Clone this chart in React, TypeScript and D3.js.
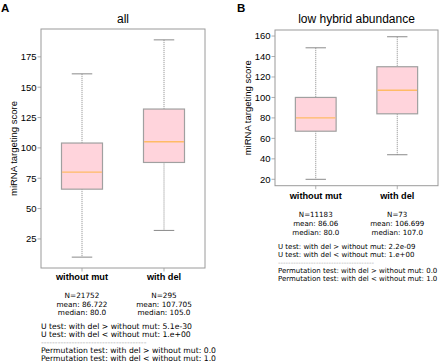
import React from "react";
import * as d3 from "d3";

const categories = ["without mut", "with del"];

// Panel A: all
const aWhiskerLow = [10, 32];
const aQ1 = [66, 88];
const aMedian = [80, 105];
const aQ3 = [104, 132];
const aWhiskerHigh = [161, 189];
const aYDomain = [1.05, 197.95];
const aTicks = [25, 50, 75, 100, 125, 150, 175];
const aStats = [
  ["N=21752", "mean: 86.722", "median: 80.0"],
  ["N=295", "mean: 107.705", "median: 105.0"],
];
const aTests = [
  "U test: with del > without mut: 5.1e-30",
  "U test: with del < without mut: 1.e+00",
  "--------------------------------------",
  "Permutation test: with del > without mut: 0.0",
  "Permutation test: with del < without mut: 1.0",
];

// Panel B: low hybrid abundance
const bWhiskerLow = [20, 44];
const bQ1 = [67, 84];
const bMedian = [80, 107];
const bQ3 = [100, 130];
const bWhiskerHigh = [148.5, 159.3];
const bYDomain = [13.75, 165.9];
const bTicks = [20, 40, 60, 80, 100, 120, 140, 160];
const bStats = [
  ["N=11183", "mean: 86.06", "median: 80.0"],
  ["N=73", "mean: 106.699", "median: 107.0"],
];
const bTests = [
  "U test: with del > without mut: 2.2e-09",
  "U test: with del < without mut: 1.e+00",
  "--------------------------------------",
  "Permutation test: with del > without mut: 0.0",
  "Permutation test: with del < without mut: 1.0",
];

const ARIAL = "Liberation Sans, Arial, sans-serif";
const DEJAVU = "DejaVu Sans, sans-serif";
const FRAME = "#9a9a9a";

type PanelProps = {
  letter: string;
  letterX: number;
  title: string;
  x0: number; x1: number; y0: number; y1: number;
  yDomain: number[];
  ticks: number[];
  lo: number[]; q1: number[]; med: number[]; q3: number[]; hi: number[];
  stats: string[][];
  tests: string[];
  catBaseline: number;
  statsBaseline: number;
  statsSize: number;
  statsStep: number;
  testsBaseline: number;
  testsSize: number;
  testsStep: number;
  testsX: number;
  labelX: number;
};

function Panel(p: PanelProps) {
  const x = d3.scaleLinear().domain([0.5, 2.5]).range([p.x0, p.x1]);
  const y = d3.scaleLinear().domain(p.yDomain).range([p.y1, p.y0]);
  const bw = x(1.25) - x(0.75);
  const cw = bw / 2;
  const midY = (p.y0 + p.y1) / 2;
  return (
    <g>
      <text x={p.letterX} y={12} fontFamily={ARIAL} fontWeight="bold" fontSize={11.5}>{p.letter}</text>
      <text x={(p.x0 + p.x1) / 2} y={23} textAnchor="middle" fontFamily={ARIAL} fontSize={12}>{p.title}</text>
      <text transform={`translate(${p.labelX},${midY}) rotate(-90)`} textAnchor="middle" fontFamily={ARIAL} fontSize={9.5}>miRNA targeting score</text>
      {p.ticks.map((t) => (
        <g key={t}>
          <line x1={p.x0 - 3.5} x2={p.x0} y1={y(t)} y2={y(t)} stroke={FRAME} strokeWidth={0.8} />
          <text x={p.x0 - 4.5} y={y(t)} dy="0.35em" textAnchor="end" fontFamily={ARIAL} fontSize={9.5}>{t}</text>
        </g>
      ))}
      {categories.map((c, i) => {
        const cx = x(i + 1);
        return (
          <g key={c}>
            <line x1={cx} x2={cx} y1={y(p.hi[i])} y2={y(p.q3[i])} stroke="#8a8a8a" strokeWidth={1} strokeDasharray="1,1" />
            <line x1={cx} x2={cx} y1={y(p.q1[i])} y2={y(p.lo[i])} stroke="#8a8a8a" strokeWidth={1} strokeDasharray="1,1" />
            <line x1={cx - cw / 2} x2={cx + cw / 2} y1={y(p.hi[i])} y2={y(p.hi[i])} stroke="#8a8a8a" strokeWidth={1} />
            <line x1={cx - cw / 2} x2={cx + cw / 2} y1={y(p.lo[i])} y2={y(p.lo[i])} stroke="#8a8a8a" strokeWidth={1} />
            <rect x={cx - bw / 2} y={y(p.q3[i])} width={bw} height={y(p.q1[i]) - y(p.q3[i])} fill="#ffd4dc" stroke="#a0a0a0" strokeWidth={1.2} />
            <line x1={cx - bw / 2 + 0.6} x2={cx + bw / 2 - 0.6} y1={y(p.med[i])} y2={y(p.med[i])} stroke="#ffbb66" strokeWidth={1.4} />
            <line x1={cx} x2={cx} y1={p.y1} y2={p.y1 + 3.5} stroke={FRAME} strokeWidth={0.8} />
            <text x={cx} y={p.catBaseline} textAnchor="middle" fontFamily={ARIAL} fontWeight="bold" fontSize={9.2}>{c}</text>
            {p.stats[i].map((s, j) => (
              <text key={j} x={cx} y={p.statsBaseline + j * p.statsStep} textAnchor="middle" fontFamily={DEJAVU} fontSize={p.statsSize}>{s}</text>
            ))}
          </g>
        );
      })}
      <rect x={p.x0} y={p.y0} width={p.x1 - p.x0} height={p.y1 - p.y0} fill="none" stroke={FRAME} strokeWidth={1} />
      {p.tests.map((s, j) => (
        <text key={j} x={p.testsX} y={p.testsBaseline + j * p.testsStep} fontFamily={DEJAVU}
          fill={j === 2 ? "#aaa" : "#000"} fontSize={p.testsSize}>{s}</text>
      ))}
    </g>
  );
}

export default function App() {
  return (
    <svg width={440} height={361} style={{ position: "absolute", left: 0, top: 0, background: "#fff" }}>
      <rect width={440} height={361} fill="#fff" />
      <Panel letter="A" letterX={1} title="all" x0={41} x1={205} y0={29} y1={268}
        yDomain={aYDomain} ticks={aTicks} lo={aWhiskerLow} q1={aQ1} med={aMedian} q3={aQ3} hi={aWhiskerHigh}
        stats={aStats} tests={aTests} catBaseline={280}
        statsBaseline={298} statsSize={7.3} statsStep={8.7}
        testsBaseline={329} testsSize={7.7} testsStep={8.1} testsX={41} labelX={17} />
      <Panel letter="B" letterX={237} title="low hybrid abundance" x0={275} x1={438} y0={30} y1={185.7}
        yDomain={bYDomain} ticks={bTicks} lo={bWhiskerLow} q1={bQ1} med={bMedian} q3={bQ3} hi={bWhiskerHigh}
        stats={bStats} tests={bTests} catBaseline={199}
        statsBaseline={217} statsSize={7.1} statsStep={8.8}
        testsBaseline={248.5} testsSize={7.0} testsStep={8.0} testsX={278} labelX={251} />
    </svg>
  );
}
